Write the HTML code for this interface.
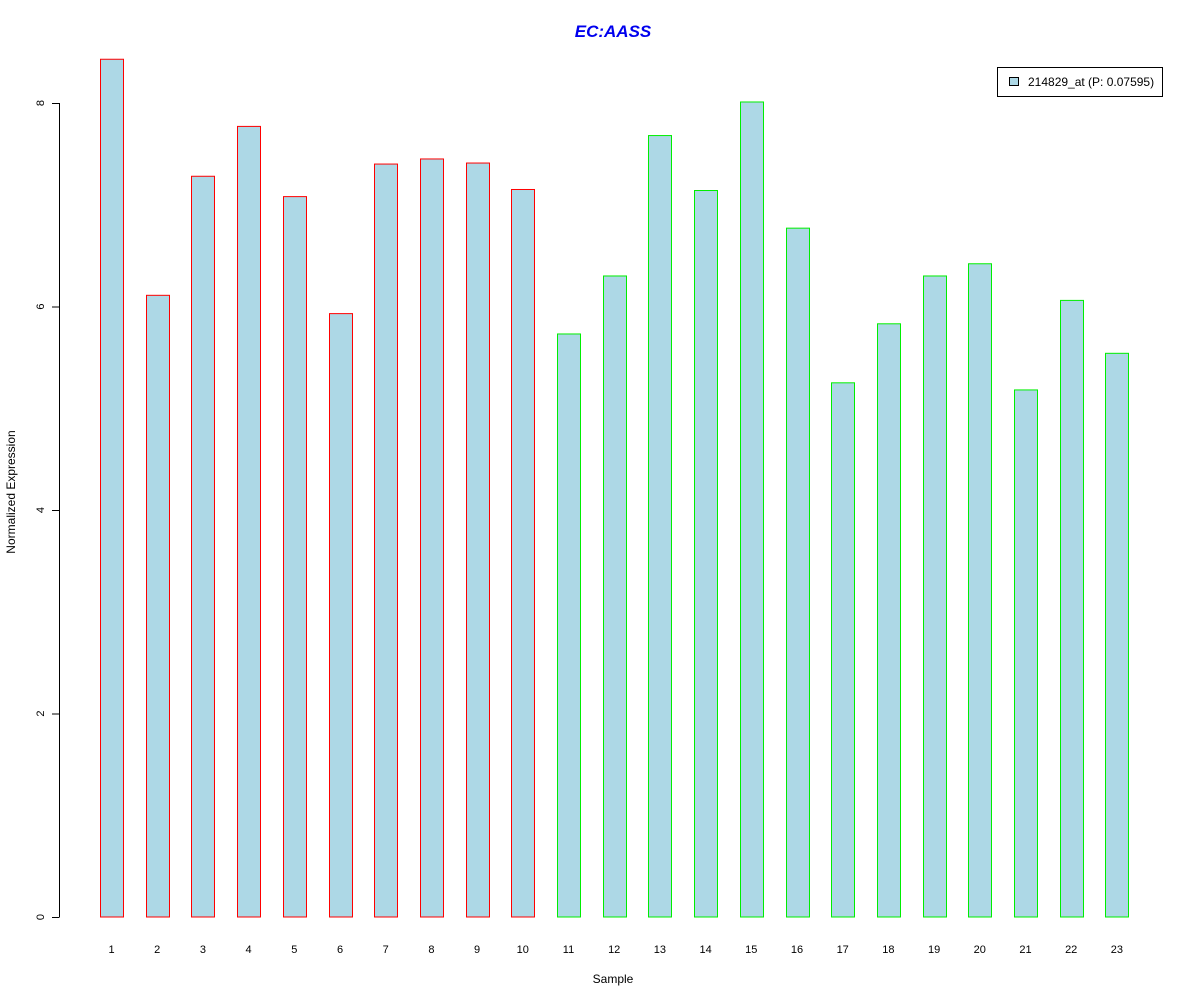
<!DOCTYPE html>
<html><head><meta charset="utf-8"><style>body{margin:0;background:#fff}svg{display:block;font-family:"Liberation Sans",sans-serif}</style></head>
<body>
<svg id="chart" width="1200" height="1000">
<text x="613" y="37" text-anchor="middle" font-size="17" font-weight="bold" font-style="italic" fill="#0000ee">EC:AASS</text>
<text x="613" y="983" text-anchor="middle" font-size="12">Sample</text>
<text transform="translate(15,492) rotate(-90)" text-anchor="middle" font-size="12">Normalized Expression</text>
<g id="yaxis"></g>
<g id="bars"></g>
<g id="xlabels"></g>
<g>
<rect x="997.5" y="67.5" width="165" height="29" fill="#fff" stroke="#000"/>
<rect x="1009.5" y="77.5" width="9" height="8" fill="#add8e6" stroke="#000"/>
<text x="1028" y="86" font-size="12">214829_at (P: 0.07595)</text>
</g>
</svg>
<script>
const categories = ["1","2","3","4","5","6","7","8","9","10","11","12","13","14","15","16","17","18","19","20","21","22","23"];
const values = [8.43,6.11,7.28,7.77,7.08,5.93,7.40,7.45,7.41,7.15,5.73,6.30,7.68,7.14,8.01,6.77,5.25,5.83,6.30,6.42,5.18,6.06,5.54];
const groups = ["a","a","a","a","a","a","a","a","a","a","b","b","b","b","b","b","b","b","b","b","b","b","b"];
const yTicks = [0,2,4,6,8];
const NS="http://www.w3.org/2000/svg";
const y = v => 917 - v*101.75;
const x = i => 111.5 + i*45.7;
const yg=document.getElementById('yaxis');
function mk(t,a,p){const e=document.createElementNS(NS,t);for(const k in a)e.setAttribute(k,a[k]);p.appendChild(e);return e;}
mk('line',{x1:59.5,x2:59.5,y1:y(0),y2:y(8),stroke:'#000'},yg);
yTicks.forEach(t=>{
  mk('line',{x1:52,x2:59.5,y1:y(t)+0.5,y2:y(t)+0.5,stroke:'#000'},yg);
  const tx=mk('text',{transform:`translate(44,${y(t)}) rotate(-90)`,'text-anchor':'middle','font-size':11},yg);
  tx.textContent=t;
  
  
});
const bg=document.getElementById('bars'), xl=document.getElementById('xlabels');
values.forEach((v,i)=>{
  const r=mk('rect',{x:Math.round(x(i)-11.5)+0.5,y:y(v),width:23,height:y(0)-y(v),fill:'#add8e6',stroke:groups[i]==='a'?'#ff0000':'#00ee00'},bg);
  
  
  const t=mk('text',{x:x(i),y:953,'text-anchor':'middle','font-size':11},xl);
  t.textContent=categories[i];
  
  
});
</script>
</body></html>
